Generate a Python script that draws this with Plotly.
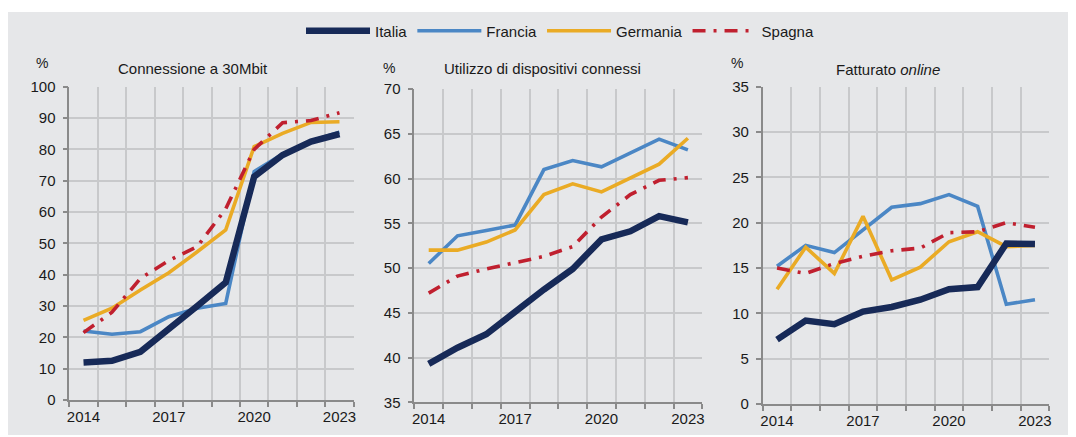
import plotly.graph_objects as go

years = [2014, 2015, 2016, 2017, 2018, 2019, 2020, 2021, 2022, 2023]
tick_years = [2014, 2017, 2020, 2023]

series_names = ["Italia", "Francia", "Germania", "Spagna"]

# Panel 1: Connessione a 30Mbit
conn_italia = [12.0, 12.5, 15.4, 22.5, 30.0, 37.5, 71.3, 78.2, 82.5, 84.9]
conn_francia = [22.0, 21.0, 21.8, 26.6, 29.3, 30.8, 72.9, 78.5, 82.7, 85.5]
conn_germania = [25.4, 29.3, 35.1, 40.6, 47.3, 54.3, 80.9, 85.1, 88.6, 88.8]
conn_spagna = [21.5, 28.0, 38.8, 44.5, 49.0, 61.0, 80.0, 88.5, 89.2, 91.7]

# Panel 2: Utilizzo di dispositivi connessi
disp_italia = [39.3, 41.1, 42.6, 45.2, 47.6, 49.9, 53.2, 54.1, 55.8, 55.1]
disp_francia = [50.5, 53.6, 54.2, 54.8, 61.0, 62.0, 61.3, 62.9, 64.4, 63.2]
disp_germania = [52.0, 52.0, 52.9, 54.25, 58.2, 59.4, 58.5, 60.0, 61.6, 64.5]
disp_spagna = [47.2, 49.1, 49.9, 50.6, 51.3, 52.4, 55.7, 58.2, 59.8, 60.1]

# Panel 3: Fatturato online
fatt_italia = [7.1, 9.2, 8.8, 10.2, 10.7, 11.5, 12.65, 12.9, 17.7, 17.65]
fatt_francia = [15.2, 17.5, 16.7, 19.2, 21.7, 22.1, 23.1, 21.8, 11.0, 11.5]
fatt_germania = [12.65, 17.3, 14.4, 20.7, 13.7, 15.1, 17.9, 19.0, 17.35, 17.5]
fatt_spagna = [15.0, 14.4, 15.5, 16.3, 16.9, 17.2, 18.9, 19.0, 20.0, 19.5]

panel_titles = ["Connessione a 30Mbit", "Utilizzo di dispositivi connessi", "Fatturato <i>online</i>"]
y_ranges = [(0, 100, 10), (35, 70, 5), (0, 35, 5)]

panels = [
    {"Italia": conn_italia, "Francia": conn_francia, "Germania": conn_germania, "Spagna": conn_spagna},
    {"Italia": disp_italia, "Francia": disp_francia, "Germania": disp_germania, "Spagna": disp_spagna},
    {"Italia": fatt_italia, "Francia": fatt_francia, "Germania": fatt_germania, "Spagna": fatt_spagna},
]

# page body adds an 8px margin; work in reference pixels and shift by OFF
OFF = 8
W, H = 1076 - OFF, 437 - OFF
FONT = "Liberation Sans, Arial, sans-serif"
BG = "#e6e7e9"
GRID = "#c8c9cb"
AXIS = "#8a8a8a"
TXT = "#1a1a1a"


def px(x):
    return (x - OFF) / W


def py(y):
    return 1 - (y - OFF) / H


styles = {
    "Italia": dict(color="#172a58", width=6.5, dash="solid"),
    "Francia": dict(color="#4b87c5", width=3.6, dash="solid"),
    "Germania": dict(color="#eaab25", width=3.6, dash="solid"),
    "Spagna": dict(color="#c0202f", width=3.6, dash="13px,8px,3px,8px"),
}
rank = {"Italia": 1, "Francia": 2, "Germania": 3, "Spagna": 4}
draw_order = ["Francia", "Germania", "Spagna", "Italia"]

# pixel boxes of the plot areas in reference coords: (left, right, top, bottom)
boxes = [(69.3, 353.7, 86.7, 400.0), (414.3, 702.3, 89.0, 402.3), (762.7, 1049.3, 86.7, 404.0)]
title_pos = [(193, 69), (542, 69), (888, 70)]
pct_pos = [(42, 63), (389, 68), (737, 63)]

fig = go.Figure()

for i, data in enumerate(panels):
    xa = "x" if i == 0 else f"x{i+1}"
    ya = "y" if i == 0 else f"y{i+1}"
    for name in draw_order:
        st = styles[name]
        fig.add_trace(go.Scatter(
            x=years, y=data[name], mode="lines", name=name,
            xaxis=xa, yaxis=ya,
            line=dict(color=st["color"], width=st["width"], dash=st["dash"]),
            legendgroup=name, showlegend=(i == 0), legendrank=rank[name],
            hoverinfo="skip",
        ))

layout = dict(
    width=W, height=H,
    margin=dict(l=0, r=0, t=0, b=0),
    paper_bgcolor="white",
    plot_bgcolor=BG,
    font=dict(family=FONT, size=15, color=TXT),
    showlegend=True,
    legend=dict(
        orientation="h", x=px(560), xanchor="center", y=py(31), yanchor="middle",
        bgcolor="rgba(0,0,0,0)", font=dict(size=15, color=TXT),
        itemwidth=64, tracegroupgap=0, traceorder="normal",
    ),
    shapes=[dict(type="rect", xref="paper", yref="paper", layer="below",
                 x0=px(8), x1=1, y0=py(435), y1=py(12),
                 fillcolor=BG, line=dict(width=0))],
    annotations=[],
)

for i, (l, r, t, b) in enumerate(boxes):
    xk = "xaxis" if i == 0 else f"xaxis{i+1}"
    yk = "yaxis" if i == 0 else f"yaxis{i+1}"
    ya = "y" if i == 0 else f"y{i+1}"
    xa = "x" if i == 0 else f"x{i+1}"
    lo, hi, step = y_ranges[i]
    layout[xk] = dict(
        domain=[px(l), px(r)], anchor=ya,
        range=[years[0] - 0.5, years[-1] + 0.5],
        tickmode="array", tickvals=tick_years, ticktext=[str(v) for v in tick_years],
        ticks="", showgrid=False, zeroline=False,
        showline=True, linecolor=AXIS, linewidth=1.5,
        ticklabelstandoff=2,
        tickfont=dict(size=15, color=TXT, family=FONT),
        minor=dict(tickvals=[y - 0.5 for y in years] + [years[-1] + 0.5],
                   ticks="outside", ticklen=5, tickcolor=AXIS, tickwidth=1.5,
                   showgrid=True, gridcolor=GRID, gridwidth=1.5),
        fixedrange=True, automargin=False,
    )
    layout[yk] = dict(
        domain=[py(b), py(t)], anchor=xa,
        range=[lo, hi], tickmode="linear", tick0=lo, dtick=step,
        ticks="outside", ticklen=5, tickcolor=AXIS, tickwidth=1.5,
        showgrid=True, gridcolor=GRID, gridwidth=1.5, zeroline=False,
        showline=True, linecolor=AXIS, linewidth=1.5,
        ticklabelstandoff=4,
        tickfont=dict(size=15, color=TXT, family=FONT),
        fixedrange=True, automargin=False,
    )
    tx, ty = title_pos[i]
    layout["annotations"].append(dict(
        text=panel_titles[i], xref="paper", yref="paper", x=px(tx), y=py(ty),
        xanchor="center", yanchor="middle", showarrow=False,
        font=dict(size=15, color=TXT, family=FONT)))
    pxx, pyy = pct_pos[i]
    layout["annotations"].append(dict(
        text="%", xref="paper", yref="paper", x=px(pxx), y=py(pyy),
        xanchor="center", yanchor="middle", showarrow=False,
        font=dict(size=14, color=TXT, family=FONT)))

fig.update_layout(**layout)
fig.write_html("out.html")
